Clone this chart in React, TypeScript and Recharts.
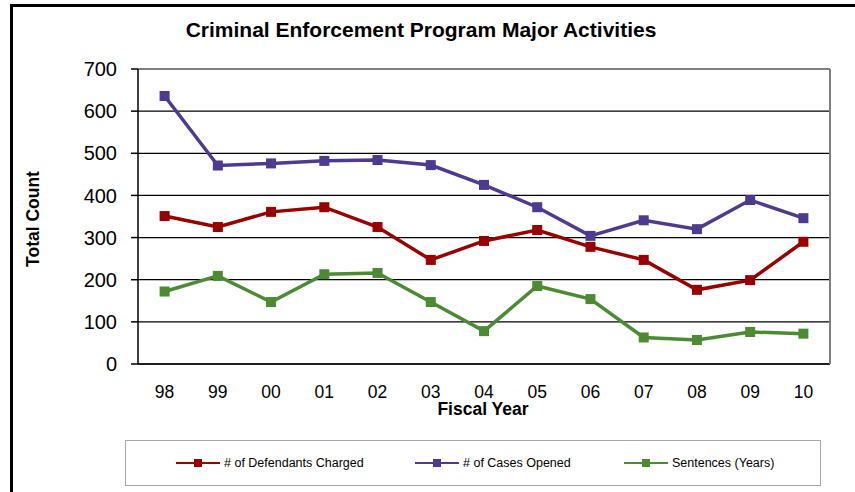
import React from 'react'
import { LineChart, Line, XAxis, YAxis, CartesianGrid } from 'recharts'

// Criminal enforcement program activity counts, FY98 – FY10
const years = ['98', '99', '00', '01', '02', '03', '04', '05', '06', '07', '08', '09', '10']
const defendantsCharged = [351, 325, 361, 372, 325, 247, 292, 318, 278, 247, 176, 199, 290]
const casesOpened = [636, 471, 476, 482, 484, 472, 425, 372, 304, 341, 320, 389, 346]
const sentencesYears = [172, 209, 147, 213, 216, 147, 78, 185, 154, 63, 57, 76, 72]
const yTicks = [0, 100, 200, 300, 400, 500, 600, 700]

const RED = '#990000'
const PURPLE = '#4E3A8E'
const GREEN = '#4C8A34'
const FONT = 'Arial, "Liberation Sans", sans-serif'

const rows = years.map((y, i) => ({
  year: y,
  defendants: defendantsCharged[i],
  cases: casesOpened[i],
  sentences: sentencesYears[i],
}))

const series = [
  { key: 'defendants', name: '# of Defendants Charged', color: RED },
  { key: 'cases', name: '# of Cases Opened', color: PURPLE },
  { key: 'sentences', name: 'Sentences (Years)', color: GREEN },
]

const squareDot = (color: string) => (p: any) => {
  if (p.cx == null || p.cy == null) return <g key={p.index} />
  return <rect key={p.index} x={p.cx - 5} y={p.cy - 5} width={10} height={10} fill={color} />
}

const LegendIcon = ({ color }: { color: string }) => (
  <svg width={44} height={10} style={{ display: 'block' }}>
    <line x1={0} y1={5} x2={44} y2={5} stroke={color} strokeWidth={2} />
    <rect x={18} y={1} width={8} height={8} fill={color} />
  </svg>
)

const legendX = [176, 415, 624]
// half a category slot on each side, so points sit mid-slot like a column chart axis
const X_PAD = 26.6

export default function App() {
  return (
    <div style={{ position: 'absolute', left: 0, top: 0, width: 855, height: 492, overflow: 'hidden', background: '#fff', fontFamily: FONT }}>
      {/* outer frame */}
      <div style={{ position: 'absolute', left: 10, top: 4, width: 900, height: 600, borderLeft: '3px solid #000', borderTop: '3px solid #000' }} />

      <LineChart
        width={855}
        height={492}
        data={rows}
        margin={{ top: 69, right: 24, left: 0, bottom: 68 }}
        style={{ position: 'absolute', left: 0, top: 0 }}
      >
        <CartesianGrid vertical={false} stroke="#000" strokeWidth={1.2} />
        <XAxis
          dataKey="year"
          padding={{ left: X_PAD, right: X_PAD }}
          tickLine={false}
          tickSize={0}
          tickMargin={22}
          height={60}
          interval={0}
          axisLine={{ stroke: '#000', strokeWidth: 1.5 }}
          tick={{ fill: '#000', fontSize: 17.5, fontFamily: FONT }}
        />
        <XAxis xAxisId="top" dataKey="year" orientation="top" height={0} tick={false} tickLine={false} axisLine={{ stroke: '#808080', strokeWidth: 2 }} />
        <YAxis
          domain={[0, 700]}
          ticks={yTicks}
          width={138}
          tickSize={7}
          tickMargin={14}
          interval={0}
          axisLine={{ stroke: '#000', strokeWidth: 1.5 }}
          tickLine={{ stroke: '#000', strokeWidth: 1.5 }}
          tick={{ fill: '#000', fontSize: 20, fontFamily: FONT }}
        />
        <YAxis yAxisId="right" orientation="right" domain={[0, 700]} width={1} tick={false} tickLine={false} axisLine={{ stroke: '#808080', strokeWidth: 2 }} />
        {series.map(s => (
          <Line
            key={s.key}
            type="linear"
            dataKey={s.key}
            name={s.name}
            stroke={s.color}
            strokeWidth={3.5}
            dot={squareDot(s.color)}
            activeDot={false}
            isAnimationActive={false}
          />
        ))}
      </LineChart>

      {/* titles */}
      <div style={{ position: 'absolute', left: 0, width: 842, top: 18, textAlign: 'center', fontSize: 21, fontWeight: 'bold' }}>
        Criminal Enforcement Program Major Activities
      </div>
      <div style={{ position: 'absolute', left: 33, top: 219, transform: 'translate(-50%, -50%) rotate(-90deg)', whiteSpace: 'nowrap', fontSize: 17.5, fontWeight: 'bold' }}>
        Total Count
      </div>
      <div style={{ position: 'absolute', left: 483, top: 410, transform: 'translate(-50%, -50%)', whiteSpace: 'nowrap', fontSize: 17.5, lineHeight: 1, fontWeight: 'bold' }}>
        Fiscal Year
      </div>

      {/* legend */}
      <div style={{ position: 'absolute', left: 125, top: 440, width: 694, height: 44, border: '1px solid #A6A6A6' }} />
      {series.map((s, i) => (
        <div key={s.key} style={{ position: 'absolute', left: legendX[i], top: 455, height: 16, display: 'flex', alignItems: 'center', gap: 4, fontSize: 12.5, whiteSpace: 'nowrap' }}>
          <LegendIcon color={s.color} />
          <span>{s.name}</span>
        </div>
      ))}
    </div>
  )
}
